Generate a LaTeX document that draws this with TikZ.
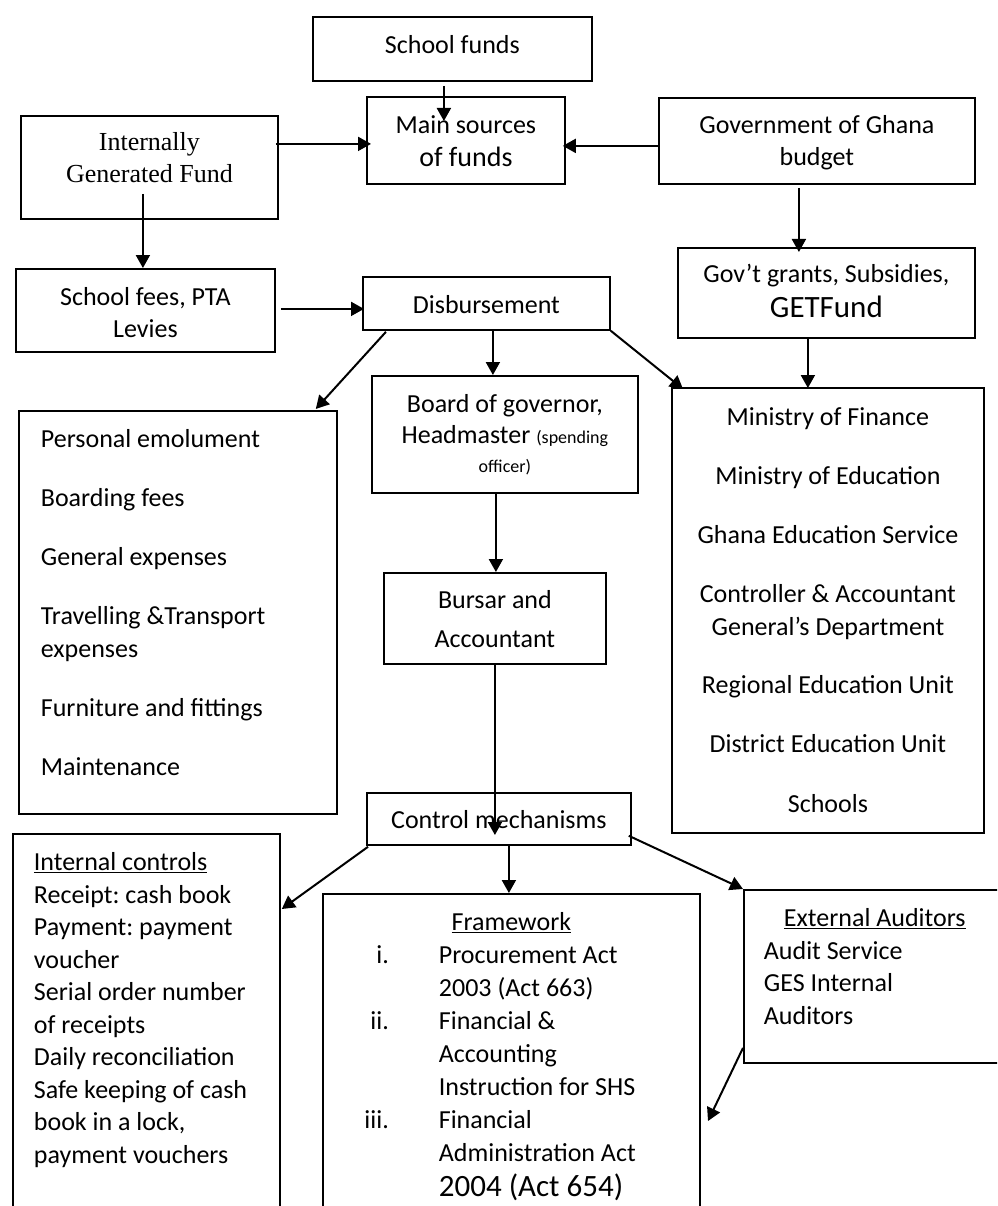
\documentclass[tikz,border=0pt]{standalone}
\usepackage{fontspec}
\setmainfont{Carlito}
\newfontfamily\timesf{Liberation Serif}
\usetikzlibrary{arrows.meta}
\newcommand{\mybox}[3]{\begin{minipage}[t][#2][t]{#1}#3\end{minipage}}
\newcommand{\bodyf}{\fontsize{26}{33}\selectfont}
\frenchspacing
\begin{document}
\begin{tikzpicture}[x=1pt,y=-1pt,
  box/.style={draw, line width=1.8pt, inner sep=0pt, anchor=north west, font=\bodyf},
  arr/.style={line width=2pt, -{Triangle[length=13pt,width=14pt]}}]
\useasboundingbox (0,0) rectangle (997,1206);
\clip (0,0) rectangle (997,1206);
\fill[white] (0,0) rectangle (997,1206);

\node[box] (sf) at (312,16) {\mybox{279pt}{64pt}{\centering\rule{0pt}{37pt}School funds}};
\node[box] (main) at (366,96) {\mybox{198pt}{87pt}{\centering\fontsize{26}{33}\selectfont\rule{0pt}{37pt}Main sources\\\fontsize{28}{33}\selectfont of funds}};
\node[box] (igf) at (20,115) {\mybox{257pt}{103pt}{\centering\timesf\fontsize{26}{32}\selectfont\rule{0pt}{35pt}Internally\\Generated Fund}};
\node[box] (gov) at (658,97) {\mybox{316pt}{86pt}{\centering\fontsize{26}{32}\selectfont\rule{0pt}{36pt}Government of Ghana\\budget}};
\node[box] (grants) at (677,247) {\mybox{297pt}{90pt}{\centering\rule{0pt}{35pt}Gov’t grants, Subsidies,\\\fontsize{31}{35}\selectfont GETFund}};
\node[box] (fees) at (15,268) {\mybox{259pt}{83pt}{\centering\fontsize{26}{32}\selectfont\rule{0pt}{37pt}School fees, PTA\\Levies}};
\node[box] (disb) at (362,276) {\mybox{247pt}{53pt}{\centering\rule{0pt}{37pt}Disbursement}};
\node[box] (board) at (371,375) {\mybox{266pt}{117pt}{\centering\fontsize{26}{31}\selectfont\rule{0pt}{37pt}Board of governor,\\Headmaster {\fontsize{18}{22}\selectfont(spending}\\[-2pt]{\fontsize{18}{22}\selectfont officer)}}};
\node[box] (bursar) at (383,572) {\mybox{222pt}{91pt}{\centering\fontsize{26}{39}\selectfont\rule{0pt}{36pt}Bursar and\\Accountant}};
\node[box] (pers) at (18,410) {\mybox{318pt}{403pt}{\raggedright\leftskip=22pt\rule{0pt}{37pt}Personal emolument\\[26pt]Boarding fees\\[26pt]General expenses\\[26pt]Travelling \&Transport\\expenses\\[26pt]Furniture and fittings\\[26pt]Maintenance}};
\node[box] (minis) at (671,387) {\mybox{312pt}{445pt}{\centering\rule{0pt}{38pt}Ministry of Finance\\[26pt]Ministry of Education\\[26pt]Ghana Education Service\\[26pt]Controller \& Accountant\\General’s Department\\[25pt]Regional Education Unit\\[26pt]District Education Unit\\[27pt]Schools}};
\node[box] (ctrl) at (366,792) {\mybox{264pt}{52pt}{\centering\rule{0pt}{36pt}Control mechanisms}};
\node[box] (intc) at (12,833) {\mybox{267pt}{400pt}{\raggedright\leftskip=21pt\fontsize{26}{32.5}\selectfont\rule{0pt}{37pt}\underline{Internal controls}\\Receipt: cash book\\Payment: payment\\voucher\\Serial order number\\of receipts\\Daily reconciliation\\Safe keeping of cash\\book in a lock,\\payment vouchers}};
\node[box] (frame) at (322,893) {\mybox{377pt}{340pt}{\fontsize{26}{33}\selectfont{\centering\rule{0pt}{37pt}\underline{Framework}\par}\raggedright
\makebox[66pt][r]{i.}\hspace{50pt}Procurement Act\\
\hspace*{116pt}2003 (Act 663)\\
\makebox[66pt][r]{ii.}\hspace{50pt}Financial \&\\
\hspace*{116pt}Accounting\\
\hspace*{116pt}Instruction for SHS\\
\makebox[66pt][r]{iii.}\hspace{50pt}Financial\\
\hspace*{116pt}Administration Act\\[2pt]
\hspace*{116pt}{\fontsize{31}{35}\selectfont 2004 (Act 654)}}};
\node[box] (ext) at (743,889) {\mybox{300pt}{173pt}{\raggedright\leftskip=20pt\fontsize{26}{32.5}\selectfont\rule{0pt}{37pt}\hspace*{20pt}\underline{External Auditors}\\Audit Service\\GES Internal\\Auditors}};
\coordinate (fe) at (708,1121);

\draw[arr] ([xshift=-8.5pt,yshift=-4pt]sf.south) -- ([xshift=-22pt,yshift=-25pt]main.north);
\draw[arr] ([xshift=-3pt,yshift=23.5pt]igf.east) -- ([xshift=5pt,yshift=-3.5pt]main.west);
\draw[arr] ([yshift=-5pt]gov.west) -- ([xshift=-3pt,yshift=-5.5pt]main.east);
\draw[arr] ([xshift=-6.5pt,yshift=26pt]igf.south) -- ([xshift=-2.5pt]fees.north);
\draw[arr] ([xshift=-18pt,yshift=-3pt]gov.south) -- ([xshift=-27.5pt,yshift=-5pt]grants.north);
\draw[arr] ([xshift=5pt,yshift=1.5pt]fees.east) -- ([xshift=2pt,yshift=-5.5pt]disb.west);
\draw[arr] ([xshift=24pt,yshift=-1pt]disb.south west) -- ([xshift=-22pt,yshift=1pt]pers.north east);
\draw[arr] ([xshift=6.5pt]disb.south) -- ([xshift=-12pt]board.north);
\draw[arr] (disb.south east) -- ([xshift=12pt,yshift=-2pt]minis.north west);
\draw[arr] ([xshift=-18.5pt]grants.south) -- ([xshift=-20pt,yshift=-1pt]minis.north);
\draw[arr] ([xshift=-9pt]board.south) -- ([xshift=1pt]bursar.north);
\draw[arr] (bursar.south) -- ([xshift=-4pt,yshift=-43pt]ctrl.north);
\draw[arr] ([xshift=2pt,yshift=-1pt]ctrl.south west) -- ([xshift=1pt,yshift=-76pt]intc.north east);
\draw[arr] ([xshift=10pt]ctrl.south) -- ([xshift=-2.5pt]frame.north);
\draw[arr] ([xshift=-3pt,yshift=10pt]ctrl.south east) -- (ext.north west);
\draw[arr] ([yshift=-71.5pt]ext.west) -- (fe);
\end{tikzpicture}
\end{document}
